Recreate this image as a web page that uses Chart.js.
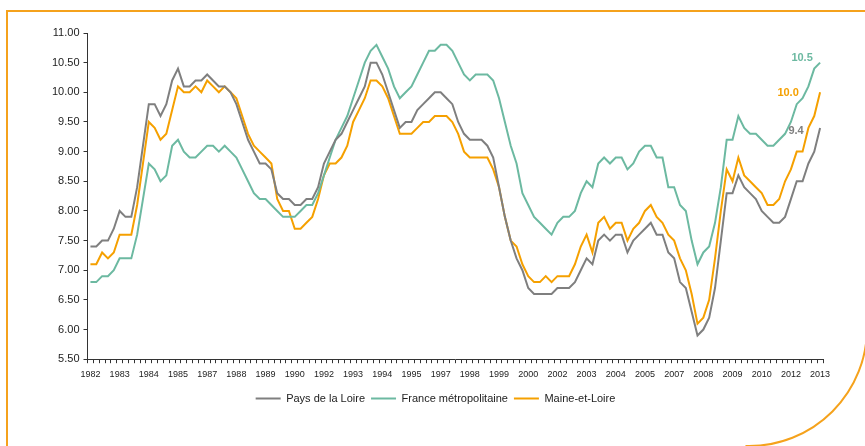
<!DOCTYPE html>
<html>
<head>
<meta charset="utf-8">
<script src="https://cdn.jsdelivr.net/npm/chart.js@4"></script>
<style>
    html, body { margin: 0; padding: 0; background: #fff; }
    #wrap { position: relative; width: 865px; height: 446px; }
</style>
</head>
<body>
<div id="wrap"><canvas id="chomageChart"></canvas></div>
<script>
//..quarterly points, 1982 Q1 -> 2013 Q2
const firstYear = 1982;
const quarterCount = 126;
const yTicks = [5.5, 6, 6.5, 7, 7.5, 8, 8.5, 9, 9.5, 10, 10.5, 11];

const seriesNames = ["Pays de la Loire", "France métropolitaine", "Maine-et-Loire"];

const paysDeLaLoire = [
    7.4, 7.4, 7.5, 7.5, 7.7, 8.0, 7.9, 7.9, 8.4, 9.1,
    9.8, 9.8, 9.6, 9.8, 10.2, 10.4, 10.1, 10.1, 10.2, 10.2,
    10.3, 10.2, 10.1, 10.1, 10.0, 9.8, 9.5, 9.2, 9.0, 8.8,
    8.8, 8.7, 8.3, 8.2, 8.2, 8.1, 8.1, 8.2, 8.2, 8.4,
    8.8, 9.0, 9.2, 9.3, 9.5, 9.7, 9.9, 10.1, 10.5, 10.5,
    10.3, 10.0, 9.7, 9.4, 9.5, 9.5, 9.7, 9.8, 9.9, 10.0,
    10.0, 9.9, 9.8, 9.5, 9.3, 9.2, 9.2, 9.2, 9.1, 8.9,
    8.4, 7.9, 7.5, 7.2, 7.0, 6.7, 6.6, 6.6, 6.6, 6.6,
    6.7, 6.7, 6.7, 6.8, 7.0, 7.2, 7.1, 7.5, 7.6, 7.5,
    7.6, 7.6, 7.3, 7.5, 7.6, 7.7, 7.8, 7.6, 7.6, 7.3,
    7.2, 6.8, 6.7, 6.3, 5.9, 6.0, 6.2, 6.7, 7.5, 8.3,
    8.3, 8.6, 8.4, 8.3, 8.2, 8.0, 7.9, 7.8, 7.8, 7.9,
    8.2, 8.5, 8.5, 8.8, 9.0, 9.4
];

const franceMetro = [
    6.8, 6.8, 6.9, 6.9, 7.0, 7.2, 7.2, 7.2, 7.6, 8.2,
    8.8, 8.7, 8.5, 8.6, 9.1, 9.2, 9.0, 8.9, 8.9, 9.0,
    9.1, 9.1, 9.0, 9.1, 9.0, 8.9, 8.7, 8.5, 8.3, 8.2,
    8.2, 8.1, 8.0, 7.9, 7.9, 7.9, 8.0, 8.1, 8.1, 8.3,
    8.6, 8.9, 9.2, 9.4, 9.6, 9.9, 10.2, 10.5, 10.7, 10.8,
    10.6, 10.4, 10.1, 9.9, 10.0, 10.1, 10.3, 10.5, 10.7, 10.7,
    10.8, 10.8, 10.7, 10.5, 10.3, 10.2, 10.3, 10.3, 10.3, 10.2,
    9.9, 9.5, 9.1, 8.8, 8.3, 8.1, 7.9, 7.8, 7.7, 7.6,
    7.8, 7.9, 7.9, 8.0, 8.3, 8.5, 8.4, 8.8, 8.9, 8.8,
    8.9, 8.9, 8.7, 8.8, 9.0, 9.1, 9.1, 8.9, 8.9, 8.4,
    8.4, 8.1, 8.0, 7.5, 7.1, 7.3, 7.4, 7.8, 8.4, 9.2,
    9.2, 9.6, 9.4, 9.3, 9.3, 9.2, 9.1, 9.1, 9.2, 9.3,
    9.5, 9.8, 9.9, 10.1, 10.4, 10.5
];

const maineEtLoire = [
    7.1, 7.1, 7.3, 7.2, 7.3, 7.6, 7.6, 7.6, 8.1, 8.8,
    9.5, 9.4, 9.2, 9.3, 9.7, 10.1, 10.0, 10.0, 10.1, 10.0,
    10.2, 10.1, 10.0, 10.1, 10.0, 9.9, 9.6, 9.3, 9.1, 9.0,
    8.9, 8.8, 8.2, 8.0, 8.0, 7.7, 7.7, 7.8, 7.9, 8.2,
    8.6, 8.8, 8.8, 8.9, 9.1, 9.5, 9.7, 9.9, 10.2, 10.2,
    10.1, 9.9, 9.6, 9.3, 9.3, 9.3, 9.4, 9.5, 9.5, 9.6,
    9.6, 9.6, 9.5, 9.3, 9.0, 8.9, 8.9, 8.9, 8.9, 8.7,
    8.4, 7.9, 7.5, 7.4, 7.1, 6.9, 6.8, 6.8, 6.9, 6.8,
    6.9, 6.9, 6.9, 7.1, 7.4, 7.6, 7.3, 7.8, 7.9, 7.7,
    7.8, 7.8, 7.5, 7.7, 7.8, 8.0, 8.1, 7.9, 7.8, 7.6,
    7.5, 7.2, 7.0, 6.6, 6.1, 6.2, 6.5, 7.2, 8.0, 8.7,
    8.5, 8.9, 8.6, 8.5, 8.4, 8.3, 8.1, 8.1, 8.2, 8.5,
    8.7, 9.0, 9.0, 9.4, 9.6, 10.0
];

//..category labels: the year of each quarter
const quarterLabels = [];
for (let i = 0; i < quarterCount; i++) {
    quarterLabels.push(String(firstYear + Math.floor(i / 4)));
}

const lineColors = {
    "Pays de la Loire": "#7f7f7f",
    "France métropolitaine": "#6cb9a1",
    "Maine-et-Loire": "#f5a000",
};
const frameColor = "#f5a21c";
const fontFamily = "'Liberation Sans', Arial, sans-serif";

//..where the end value of each line is written, relative to the last point
const endLabelOffsets = [
    { dx: -24, dy: 3 },
    { dx: -18, dy: -5 },
    { dx: -32, dy: 1 },
];

//..orange frame around the chart, with the big rounded corner bottom right
const framePlugin = {
    id: 'frame',
    beforeDraw(chart) {
        const ctx = chart.ctx;
        ctx.save();
        ctx.strokeStyle = frameColor;
        ctx.lineWidth = 2;
        ctx.beginPath();
        ctx.moveTo(870, 11);
        ctx.lineTo(7, 11);
        ctx.lineTo(7, 450);
        ctx.stroke();
        ctx.beginPath();
        ctx.arc(749, 328, 118, 0, Math.PI / 2 + 0.03);
        ctx.stroke();
        ctx.restore();
    }
};

const endLabelPlugin = {
    id: 'endLabels',
    afterDatasetsDraw(chart) {
        const ctx = chart.ctx;
        ctx.save();
        ctx.font = "bold 11px " + fontFamily;
        ctx.textAlign = 'center';
        ctx.textBaseline = 'middle';
        chart.data.datasets.forEach((ds, i) => {
            const meta = chart.getDatasetMeta(i);
            const last = meta.data[meta.data.length - 1];
            const value = ds.data[ds.data.length - 1];
            const off = endLabelOffsets[i];
            ctx.fillStyle = ds.borderColor;
            ctx.fillText(value.toFixed(1), last.x + off.dx, last.y + off.dy);
        });
        ctx.restore();
    }
};

function makeDataset(name, values) {
    return {
        label: name,
        data: values,
        borderColor: lineColors[name],
        backgroundColor: lineColors[name],
        borderWidth: 2,
        pointRadius: 0,
        tension: 0,
        fill: false,
    };
}

document.addEventListener('DOMContentLoaded', function () {
    Chart.defaults.font.family = fontFamily;
    Chart.defaults.color = '#222';

    new Chart(document.getElementById('chomageChart'), {
        type: 'line',
        data: {
            labels: quarterLabels,
            datasets: [
                makeDataset(seriesNames[0], paysDeLaLoire),
                makeDataset(seriesNames[1], franceMetro),
                makeDataset(seriesNames[2], maineEtLoire),
            ]
        },
        options: {
            responsive: true,
            maintainAspectRatio: false,
            animation: false,
            layout: {
                padding: { left: 48, right: 42, top: 33, bottom: 32 }
            },
            plugins: {
                legend: {
                    position: 'bottom',
                    labels: {
                        usePointStyle: true,
                        pointStyle: 'line',
                        pointStyleWidth: 25,
                        padding: 6,
                        font: { size: 11 },
                        color: '#222'
                    }
                },
                tooltip: { enabled: false }
            },
            scales: {
                x: {
                    type: 'category',
                    offset: true,
                    border: { color: '#333', width: 1 },
                    grid: {
                        offset: true,
                        drawOnChartArea: false,
                        drawTicks: true,
                        tickLength: 4,
                        color: '#333'
                    },
                    afterFit: function (axis) {
                        axis.height += 1;
                    },
                    ticks: {
                        autoSkip: false,
                        maxRotation: 0,
                        minRotation: 0,
                        padding: 6,
                        font: { size: 9 },
                        color: '#222',
                        callback: function (val, index) {
                            return index % 5 === 0 ? this.getLabelForValue(val) : '';
                        }
                    }
                },
                y: {
                    min: yTicks[0],
                    max: yTicks[yTicks.length - 1],
                    border: { color: '#333', width: 1 },
                    grid: {
                        drawOnChartArea: false,
                        drawTicks: true,
                        tickLength: 4,
                        color: '#333'
                    },
                    afterBuildTicks: function (axis) {
                        axis.ticks = yTicks.map(v => ({ value: v }));
                    },
                    ticks: {
                        padding: 4,
                        font: { size: 11 },
                        color: '#222',
                        callback: v => v.toFixed(2)
                    }
                }
            }
        },
        plugins: [framePlugin, endLabelPlugin]
    });
});
</script>
</body>
</html>
